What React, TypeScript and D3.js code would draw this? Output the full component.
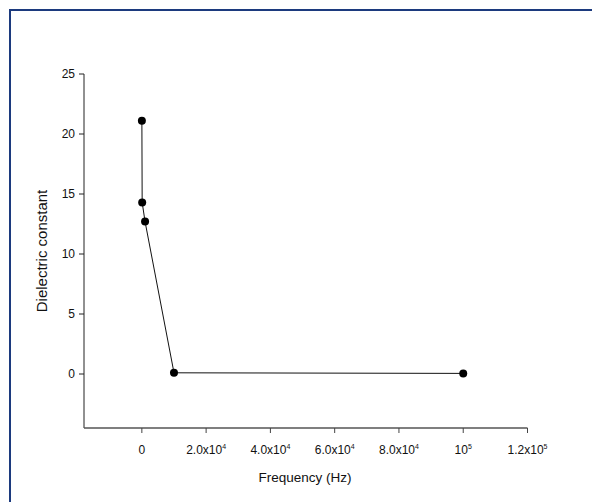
import React from "react";
import * as d3 from "d3";

const frequencies = [10, 100, 1000, 10000, 100000];
const dielectric = [21.1, 14.3, 12.7, 0.1, 0.05];
const xTicks = [0, 20000, 40000, 60000, 80000, 100000, 120000];
const xTickLabels: [string, string][] = [
  ["0", ""],
  ["2.0x10", "4"],
  ["4.0x10", "4"],
  ["6.0x10", "4"],
  ["8.0x10", "4"],
  ["10", "5"],
  ["1.2x10", "5"],
];
const yTicks = [0, 5, 10, 15, 20, 25];

const W = 592;
const H = 502;
const left = 84;
const right = 527.5;
const top = 74;
const bottom = 428;

export default function App() {
  const x = d3.scaleLinear().domain([-18000, 120000]).range([left, right]);
  const y = d3.scaleLinear().domain([-4.5, 25]).range([bottom, top]);
  const pts = frequencies.map((f, i) => [x(f), y(dielectric[i])] as [number, number]);
  const line = d3.line()(pts) || "";
  const font = "'Liberation Sans', Arial, sans-serif";
  return (
    <svg
      width={W}
      height={H}
      style={{ position: "absolute", left: 0, top: 0, background: "#fff" }}
      fontFamily={font}
    >
      <rect x={0} y={0} width={W} height={H} fill="#fff" />
      <rect x={10} y={10} width={W + 20} height={H + 20} fill="none" stroke="#1c3a7e" strokeWidth={2} />
      {/* y axis */}
      <line x1={left} x2={left} y1={top} y2={bottom} stroke="#222" strokeWidth={1} />
      {yTicks.map((t) => (
        <g key={t}>
          <line x1={left - 5} x2={left} y1={y(t)} y2={y(t)} stroke="#222" />
          <text x={left - 9} y={y(t)} dy="0.35em" textAnchor="end" fontSize={12} fill="#111">
            {t}
          </text>
        </g>
      ))}
      {/* x axis */}
      <line x1={left} x2={right} y1={bottom} y2={bottom} stroke="#555" strokeWidth={1.5} />
      {xTicks.map((t, i) => (
        <g key={t}>
          <line x1={x(t)} x2={x(t)} y1={bottom} y2={bottom + 5} stroke="#444" />
          <text x={x(t)} y={bottom + 26} textAnchor="middle" fontSize={12} fill="#111">
            {xTickLabels[i][0]}
            {xTickLabels[i][1] && (
              <tspan fontSize={7} dy={-5}>
                {xTickLabels[i][1]}
              </tspan>
            )}
          </text>
        </g>
      ))}
      <path d={line} fill="none" stroke="#111" strokeWidth={1} />
      {pts.map((p, i) => (
        <circle key={i} cx={p[0]} cy={p[1]} r={4} fill="#000" />
      ))}
      <text x={305} y={482} textAnchor="middle" fontSize={13.5} fill="#111">
        Frequency (Hz)
      </text>
      <text
        transform={`translate(47,${(top + bottom) / 2}) rotate(-90)`}
        textAnchor="middle"
        fontSize={15}
        fill="#111"
      >
        Dielectric constant
      </text>
    </svg>
  );
}
